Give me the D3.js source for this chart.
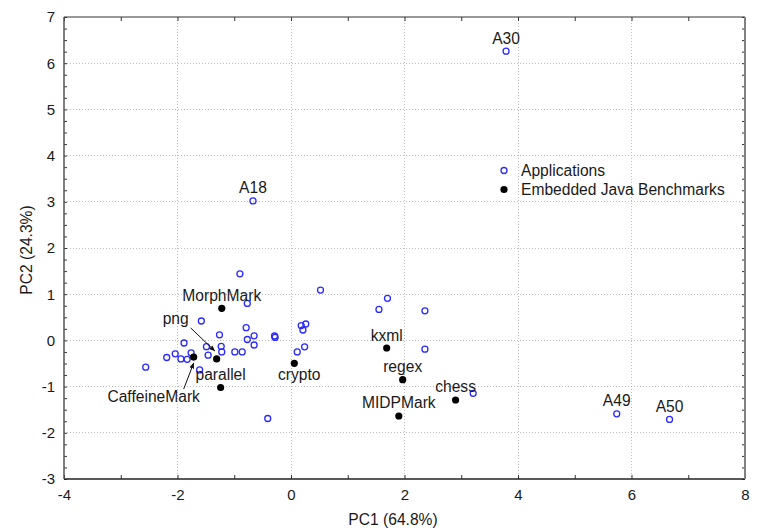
<!DOCTYPE html>
<html>
<head>
<meta charset="utf-8">
<script src="https://cdn.jsdelivr.net/npm/d3@7/dist/d3.min.js"></script>
<style>
  html, body { margin: 0; padding: 0; background: #fff; }
  svg { display: block; }
  text { font-family: Arial, "Liberation Sans", sans-serif; fill: #1a1a1a; }
</style>
</head>
<body>
<script>
// ---- Data ----
const appX = [3.79, -0.67, 5.74, 6.67, -0.41, 3.21, 1.70, 1.55, 2.36, 2.36,
  -0.90, 0.52, -0.77, -1.58, -0.79, -1.26, 0.18, 0.26, 0.21, -0.29,
  -0.28, -0.65, -0.77, -0.65, -1.23, -1.49, -1.22, -1.46, -0.99, -0.86,
  -1.885, -2.04, -2.19, -1.94, -1.83, -1.76, -1.61, -2.56, 0.11, 0.24];
const appY = [6.26, 3.02, -1.59, -1.71, -1.69, -1.145, 0.91, 0.67, 0.64, -0.19,
  1.44, 1.09, 0.80, 0.42, 0.275, 0.12, 0.32, 0.355, 0.225, 0.095,
  0.065, 0.10, 0.02, -0.10, -0.13, -0.135, -0.25, -0.32, -0.25, -0.25,
  -0.056, -0.29, -0.37, -0.40, -0.41, -0.27, -0.64, -0.58, -0.25, -0.14];
const appLabels = ["A30", "A18", "A49", "A50", "", "", "", "", "", "",
  "", "", "", "", "", "", "", "", "", "",
  "", "", "", "", "", "", "", "", "", "",
  "", "", "", "", "", "", "", "", "", ""];

const benchNames = ["MorphMark", "png", "CaffeineMark", "parallel", "crypto",
  "kxml", "regex", "chess", "MIDPMark"];
const benchX = [-1.22, -1.31, -1.715, -1.24, 0.058, 1.686, 1.968, 2.90, 1.90];
const benchY = [0.695, -0.40, -0.36, -1.02, -0.496, -0.165, -0.85, -1.29, -1.636];

const xTickLabels = [-4, -2, 0, 2, 4, 6, 8];
const yTickLabels = [-3, -2, -1, 0, 1, 2, 3, 4, 5, 6, 7];
const seriesNames = ["Applications", "Embedded Java Benchmarks"];
const xTitle = "PC1 (64.8%)";
const yTitle = "PC2 (24.3%)";

// ---- Layout ----
const W = 761, H = 529;
const pL = 64, pR = 745, pT = 17, pB = 479;
const x = d3.scaleLinear().domain([-4, 8]).range([pL, pR]);
const y = d3.scaleLinear().domain([-3, 7]).range([pB, pT]);
const FS = 15.6;

const svg = d3.select("body").append("svg").attr("width", W).attr("height", H);

// grid
const grid = svg.append("g").attr("stroke", "#bdbdbd").attr("stroke-width", 1)
  .attr("stroke-dasharray", "1,2").attr("shape-rendering", "crispEdges");
xTickLabels.filter(v => v > -4 && v < 8).forEach(v => {
  grid.append("line").attr("x1", x(v)).attr("x2", x(v)).attr("y1", pT).attr("y2", pB);
});
yTickLabels.filter(v => v > -3 && v < 7).forEach(v => {
  grid.append("line").attr("x1", pL).attr("x2", pR).attr("y1", y(v)).attr("y2", y(v));
});

// minor ticks
const yMinor = d3.range(-3, 7.001, 0.25);
const xMinor = d3.range(-4, 8.001, 1);
function styleAxis(g) {
  g.select(".domain").remove();
  g.selectAll(".tick line").attr("stroke", "#333").attr("stroke-width", 1);
}
svg.append("g").attr("transform", `translate(${pL},0)`)
  .call(d3.axisRight(y).tickValues(yMinor).tickSize(3).tickFormat("")).call(styleAxis);
svg.append("g").attr("transform", `translate(${pR},0)`)
  .call(d3.axisLeft(y).tickValues(yMinor).tickSize(3).tickFormat("")).call(styleAxis);
svg.append("g").attr("transform", `translate(0,${pB})`)
  .call(d3.axisTop(x).tickValues(xMinor).tickSize(4).tickFormat("")).call(styleAxis);
svg.append("g").attr("transform", `translate(0,${pT})`)
  .call(d3.axisBottom(x).tickValues(xMinor).tickSize(4).tickFormat("")).call(styleAxis);

// tick labels
const fmt = d => String(d);
const yl = svg.append("g").attr("transform", `translate(${pL},0)`)
  .call(d3.axisLeft(y).tickValues(yTickLabels).tickSize(0).tickPadding(9).tickFormat(fmt));
yl.select(".domain").remove();
yl.selectAll("text").attr("font-size", 15).attr("fill", "#1a1a1a")
  .attr("font-family", "Arial, 'Liberation Sans', sans-serif");
const xl = svg.append("g").attr("transform", `translate(0,${pB})`)
  .call(d3.axisBottom(x).tickValues(xTickLabels).tickSize(0).tickPadding(10).tickFormat(fmt));
xl.select(".domain").remove();
xl.selectAll("text").attr("font-size", 15).attr("fill", "#1a1a1a")
  .attr("font-family", "Arial, 'Liberation Sans', sans-serif");

// frame
svg.append("line").attr("x1", pL).attr("x2", pR).attr("y1", pT).attr("y2", pT)
  .attr("stroke", "#333").attr("stroke-width", 1);
svg.append("line").attr("x1", pL).attr("x2", pR).attr("y1", pB).attr("y2", pB)
  .attr("stroke", "#222").attr("stroke-width", 1.5);
svg.append("line").attr("x1", pL).attr("x2", pL).attr("y1", pT).attr("y2", pB)
  .attr("stroke", "#555").attr("stroke-width", 1.5);
svg.append("line").attr("x1", pR).attr("x2", pR).attr("y1", pT).attr("y2", pB)
  .attr("stroke", "#808080").attr("stroke-width", 2);

// axis titles
svg.append("text").attr("x", 393).attr("y", 525)
  .attr("text-anchor", "middle").attr("font-size", FS).text(xTitle);
svg.append("text").attr("transform", `translate(32,250) rotate(-90)`)
  .attr("text-anchor", "middle").attr("font-size", FS).text(yTitle);

// points
const blue = "#2a2aff";
const apps = appX.map((v, i) => ({ x: v, y: appY[i], label: appLabels[i] }));
const bench = benchX.map((v, i) => ({ x: v, y: benchY[i], label: benchNames[i] }));

svg.append("g").selectAll("circle").data(apps).join("circle")
  .attr("cx", d => x(d.x)).attr("cy", d => y(d.y)).attr("r", 3)
  .attr("fill", "none").attr("stroke", blue).attr("stroke-width", 1.3);
svg.append("g").selectAll("circle").data(bench).join("circle")
  .attr("cx", d => x(d.x)).attr("cy", d => y(d.y)).attr("r", 3.6)
  .attr("fill", "#000");

// labels
const offsets = {
  "crypto": [5, 17, null],
  "png": [-41, -35, [-26, -31, -2, -8]],
  "CaffeineMark": [-40, 45, [-10, 32, 0, 6]]
};
const defs = svg.append("defs");
defs.append("marker").attr("id", "ah").attr("viewBox", "0 0 10 10")
  .attr("refX", 9).attr("refY", 5).attr("markerWidth", 6).attr("markerHeight", 6)
  .attr("orient", "auto")
  .append("path").attr("d", "M0,1 L10,5 L0,9 Z").attr("fill", "#111");

const labeled = apps.filter(d => d.label).concat(bench);
labeled.forEach(d => {
  const px = x(d.x), py = y(d.y);
  const o = offsets[d.label] || [0, -7.5, null];
  svg.append("text").attr("x", px + o[0]).attr("y", py + o[1])
    .attr("text-anchor", "middle").attr("font-size", FS).text(d.label);
  if (o[2]) {
    const a = o[2];
    svg.append("line").attr("x1", px + a[0]).attr("y1", py + a[1])
      .attr("x2", px + a[2]).attr("y2", py + a[3])
      .attr("stroke", "#111").attr("stroke-width", 1).attr("marker-end", "url(#ah)");
  }
});

// legend
const lg = svg.append("g");
lg.append("circle").attr("cx", 504).attr("cy", 170.5).attr("r", 3)
  .attr("fill", "none").attr("stroke", blue).attr("stroke-width", 1.3);
lg.append("text").attr("x", 521).attr("y", 176).attr("font-size", FS).text(seriesNames[0]);
lg.append("circle").attr("cx", 504).attr("cy", 189.5).attr("r", 3.6).attr("fill", "#000");
lg.append("text").attr("x", 521).attr("y", 195).attr("font-size", FS).text(seriesNames[1]);
</script>
</body>
</html>
